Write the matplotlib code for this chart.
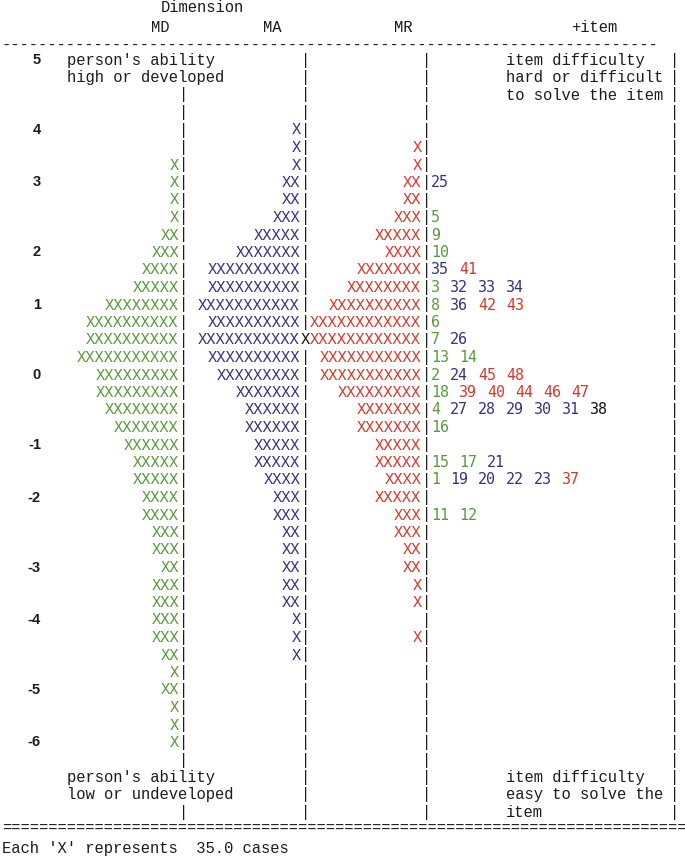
import matplotlib
matplotlib.use("Agg")
import matplotlib.pyplot as plt

# Wright map (ConQuest style), rows run from logit +5 (top) to -6 (bottom)
# number of 'X' in each row, per dimension
md_counts = [0, 0, 0, 0, 0, 0, 1, 1, 1, 1, 2, 3, 4, 5, 8, 10, 10, 11, 9, 9, 8, 7,
             6, 5, 5, 4, 4, 3, 3, 2, 3, 3, 3, 3, 2, 1, 2, 1, 1, 1, 0, 0, 0, 0]
ma_counts = [0, 0, 0, 0, 1, 1, 1, 2, 2, 3, 5, 7, 10, 10, 11, 10, 11, 10, 9, 7, 6, 6,
             5, 5, 4, 3, 3, 2, 2, 2, 2, 2, 1, 1, 1, 0, 0, 0, 0, 0, 0, 0, 0, 0]
mr_counts = [0, 0, 0, 0, 0, 1, 1, 2, 2, 3, 5, 4, 7, 8, 10, 12, 13, 11, 11, 9, 7, 7,
             5, 5, 4, 5, 3, 3, 2, 2, 1, 1, 0, 1, 0, 0, 0, 0, 0, 0, 0, 0, 0, 0]

# logit scale labels and the row they sit on
tick_values = [5, 4, 3, 2, 1, 0, -1, -2, -3, -4, -5, -6]
tick_rows = [0, 4, 7, 11, 14, 18, 22, 25, 29, 32, 36, 39]

# items: number, row on the map, dimension
item_numbers = [1, 2, 3, 4, 5, 6, 7, 8, 9, 10, 11, 12, 13, 14, 15, 16, 17, 18,
                19, 20, 21, 22, 23, 24, 25, 26, 27, 28, 29, 30, 31, 32, 33, 34, 35, 36,
                37, 38, 39, 40, 41, 42, 43, 44, 45, 46, 47, 48]
item_rows = [24, 18, 13, 20, 9, 15, 16, 14, 10, 11, 26, 26, 17, 17, 23, 21, 23, 19,
             24, 24, 23, 24, 24, 18, 7, 16, 20, 20, 20, 20, 20, 13, 13, 13, 12, 14,
             24, 20, 19, 19, 12, 14, 14, 19, 18, 19, 19, 18]
item_dims = ["MD"] * 18 + ["MA"] * 18 + ["MR", "none"] + ["MR"] * 10

dim_names = ["MD", "MA", "MR"]
colors = {"MD": "#58993a", "MA": "#34337e", "MR": "#d6372b", "none": "#111111"}
INK = "#1c1c1c"

fig = plt.figure(figsize=(6.85, 8.59), dpi=100)
ax = fig.add_axes([0, 0, 1, 1])
ax.set_xlim(0, 685)
ax.set_ylim(859, 0)
ax.axis("off")

MONO = "Liberation Mono"
FS = 11.2            # gives ~9.33 px per character at 100 dpi
CW = 9.33
X0 = 2.0
bar_cols = {"MD": 19, "MA": 32, "MR": 45}
right_bar_x = 675
n_rows = len(md_counts)


def col_x(c):
    return X0 + c * CW


def row_y(r):
    return 60 + r * 17.5


def put(col, y, s, color=INK, **kw):
    ax.text(col_x(col), y, s, family=MONO, fontsize=FS, color=color,
            ha="left", va="center", **kw)


# header
put(17, 8, "Dimension")
put(16, 27, "MD")
put(28, 27, "MA")
put(42, 27, "MR")
put(61, 27, "+item")
put(0, 45, "-" * 71)

# annotation text inside the map
put(7, row_y(0), "person's ability")
put(7, row_y(1), "high or developed")
put(54, row_y(0), "item difficulty")
put(54, row_y(1), "hard or difficult")
put(54, row_y(2), "to solve the item")
put(7, row_y(41), "person's ability")
put(7, row_y(42), "low or undeveloped")
put(54, row_y(41), "item difficulty")
put(54, row_y(42), "easy to solve the")
put(54, row_y(43), "item")

# logit labels
for v, r in zip(tick_values, tick_rows):
    ax.text(41, row_y(r), str(v), family="Liberation Sans", fontsize=10.5,
            fontweight="bold", color=INK, ha="right", va="center")

counts = {"MD": md_counts, "MA": ma_counts, "MR": mr_counts}
text_rows = {0, 1, 41, 42}   # MD column is covered by text in these rows

for r in range(n_rows):
    y = row_y(r)
    overflow = max(0, mr_counts[r] - 12)
    for d in dim_names:
        bc = bar_cols[d]
        n = counts[d][r]
        if d == "MD" and r in text_rows:
            continue
        if not (d == "MA" and overflow):
            put(bc, y, "|")
        if n:
            shown = min(n, 12)
            put(bc - shown, y, "X" * shown, color=colors[d])
    if overflow:
        put(bar_cols["MA"], y, "X" * overflow, color=colors["none"])
    ax.text(right_bar_x, y, "|", family=MONO, fontsize=FS, color=INK,
            ha="center", va="center")

# item numbers to the right of the MR column
for r in range(n_rows):
    here = sorted((num, dim) for num, row, dim in
                  zip(item_numbers, item_rows, item_dims) if row == r)
    c = bar_cols["MR"] + 1
    for num, dim in here:
        ax.text(col_x(c), row_y(r), str(num), family="DejaVu Sans Mono",
                fontsize=10.8, color=colors[dim], ha="left", va="center")
        c += len(str(num)) + 1

# footer
put(0, 828, "=" * 74)
put(0, 848, "Each 'X' represents  35.0 cases")

fig.savefig("out.png", dpi=100)
